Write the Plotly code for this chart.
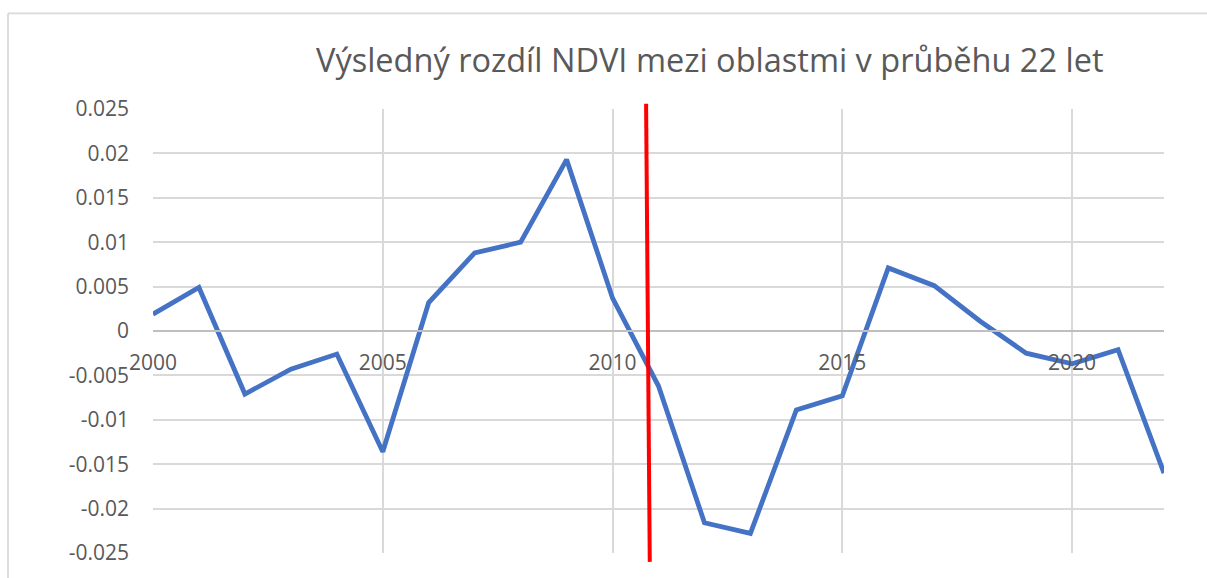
import plotly.graph_objects as go

# ---- data ----
years = list(range(2000, 2023))
ndvi_diff = [0.0019, 0.0049, -0.0071, -0.0043, -0.0026, -0.0136, 0.0032, 0.0088,
             0.0100, 0.0193, 0.0037, -0.0062, -0.0216, -0.0228, -0.0089, -0.0073,
             0.0071, 0.0051, 0.0011, -0.0025, -0.0037, -0.0021, -0.0160]
y_tick_vals = [0.025, 0.02, 0.015, 0.01, 0.005, 0, -0.005, -0.01, -0.015, -0.02, -0.025]
y_tick_text = ["0.025", "0.02", "0.015", "0.01", "0.005", "0", "-0.005", "-0.01",
               "-0.015", "-0.02", "-0.025"]
x_tick_vals = [2000, 2005, 2010, 2015, 2020]
x_tick_text = ["2000", "2005", "2010", "2015", "2020"]
# hand-drawn red marker line (data coords, top -> bottom)
marker_x = [2010.73, 2010.81]
marker_y = [0.0256, -0.0260]
title_text = "Výsledný rozdíl NDVI mezi oblastmi v průběhu 22 let"

Y_RANGE = [-0.025, 0.025]
X_RANGE = [2000, 2022]

W, H = 1207, 578
ML, MR, MT, MB = 153, 43, 109, 23
PW, PH = W - ML - MR, H - MT - MB

def px_to_paper_x(px):
    return (px - ML) / PW

def px_to_paper_y(py):
    return (H - MB - py) / PH

def data_to_paper_y(v):
    return (v - Y_RANGE[0]) / (Y_RANGE[1] - Y_RANGE[0])

FONT = "Open Sans, Noto Sans, sans-serif"
TXT = "#595959"
GRID = "#d9d9d9"

fig = go.Figure()
fig.add_trace(go.Scatter(
    x=years, y=ndvi_diff, mode="lines",
    line=dict(color="#4472C4", width=4.8),
    showlegend=False, hoverinfo="x+y",
))

fig.update_layout(
    width=W, height=H,
    margin=dict(l=ML, r=MR, t=MT, b=MB, pad=0),
    paper_bgcolor="white", plot_bgcolor="white",
    font=dict(family=FONT, color=TXT, size=21),
    showlegend=False,
    xaxis=dict(
        range=X_RANGE, tickmode="array", tickvals=x_tick_vals, ticktext=x_tick_text,
        showgrid=True, gridcolor=GRID, gridwidth=1.8,
        zeroline=False, showline=True, linecolor="#bfbfbf", linewidth=1.8,
        anchor="free", position=0.5, ticks="", ticklabelstandoff=13,
        tickfont=dict(family=FONT, size=21, color=TXT),
    ),
    yaxis=dict(
        range=Y_RANGE, tickmode="array", tickvals=y_tick_vals, ticktext=y_tick_text,
        showgrid=True, gridcolor=GRID, gridwidth=1.8,
        zeroline=False, showline=False, ticks="", ticklabelstandoff=23,
        tickfont=dict(family=FONT, size=21, color=TXT),
    ),
    annotations=[dict(
        text=title_text, xref="paper", yref="paper",
        x=px_to_paper_x(709), y=px_to_paper_y(59),
        xanchor="center", yanchor="middle", showarrow=False,
        font=dict(family=FONT, size=32.5, color=TXT),
    )],
    shapes=[
        dict(type="line", xref="paper", yref="paper",
             x0=px_to_paper_x(8), x1=px_to_paper_x(W + 10),
             y0=px_to_paper_y(13), y1=px_to_paper_y(13),
             line=dict(color=GRID, width=1.8), layer="below"),
        dict(type="line", xref="paper", yref="paper",
             x0=px_to_paper_x(8), x1=px_to_paper_x(8),
             y0=px_to_paper_y(13), y1=px_to_paper_y(H + 10),
             line=dict(color=GRID, width=1.8), layer="below"),
        dict(type="line", xref="x", yref="paper",
             x0=marker_x[0], x1=marker_x[1],
             y0=data_to_paper_y(marker_y[0]), y1=data_to_paper_y(marker_y[1]),
             line=dict(color="#FF0000", width=4), layer="above"),
    ],
)

fig.write_html("out.html",
               config={"displayModeBar": False},
               post_script="document.body.style.margin='0';document.body.style.overflow='hidden';")
